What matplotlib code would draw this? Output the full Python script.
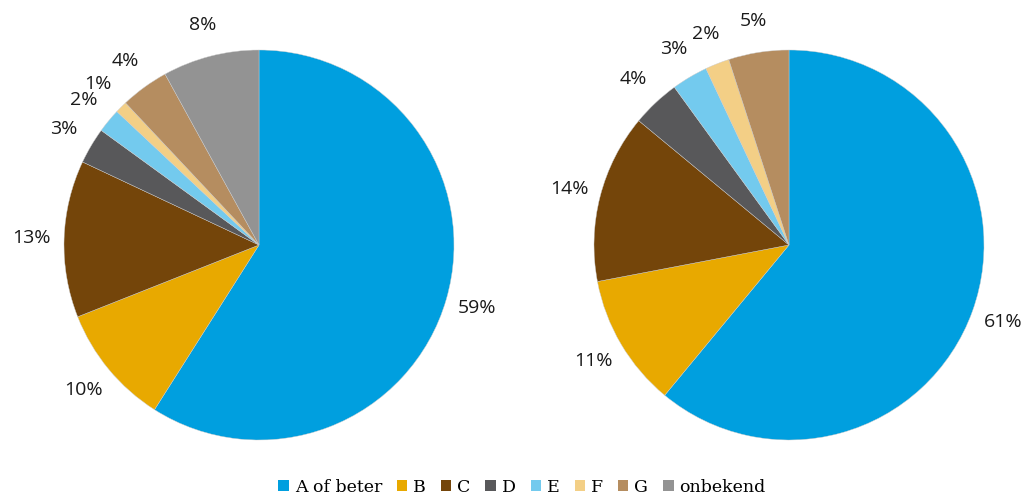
import matplotlib.pyplot as plt
from matplotlib.patches import Patch

categories = ['A of beter', 'B', 'C', 'D', 'E', 'F', 'G', 'onbekend']
colors = ['#009FDF', '#E8A900', '#74450A', '#58585A', '#73CAEE', '#F3CF86', '#B58D60', '#939393']

left_values = [59, 10, 13, 3, 2, 1, 4, 8]
right_values = [61, 11, 14, 4, 3, 2, 5]

fig = plt.figure(figsize=(10.26, 4.97), dpi=100)

h = 390 / 497
ax1 = fig.add_axes([(259 - 195) / 1026, (497 - 440) / 497, 390 / 1026, h])
ax2 = fig.add_axes([(789 - 195) / 1026, (497 - 440) / 497, 390 / 1026, h])


def draw_pie(ax, values):
    labels = ['%d%%' % v for v in values]
    wedges, texts = ax.pie(values, colors=colors[:len(values)], labels=labels,
                           startangle=90, counterclock=False, labeldistance=1.165,
                           wedgeprops=dict(edgecolor='#cccccc', linewidth=0.3),
                           textprops=dict(fontsize=14, family='Open Sans', color='#1a1a1a'))
    for t in texts:
        t.set_horizontalalignment('center')
        t.set_verticalalignment('center')
    ax.set_aspect('equal')
    ax.set_xlim(-1, 1)
    ax.set_ylim(-1, 1)


draw_pie(ax1, left_values)
draw_pie(ax2, right_values)

handles = [Patch(facecolor=c, edgecolor='none') for c in colors]
fig.legend(handles, categories, loc='center', bbox_to_anchor=(522 / 1026, 1 - 487 / 497),
           ncol=8, frameon=False, handlelength=0.6, handleheight=0.6, handletextpad=0.35,
           columnspacing=0.85, prop=dict(family='DejaVu Serif', size=12.5))

fig.savefig('out.png', dpi=100)
